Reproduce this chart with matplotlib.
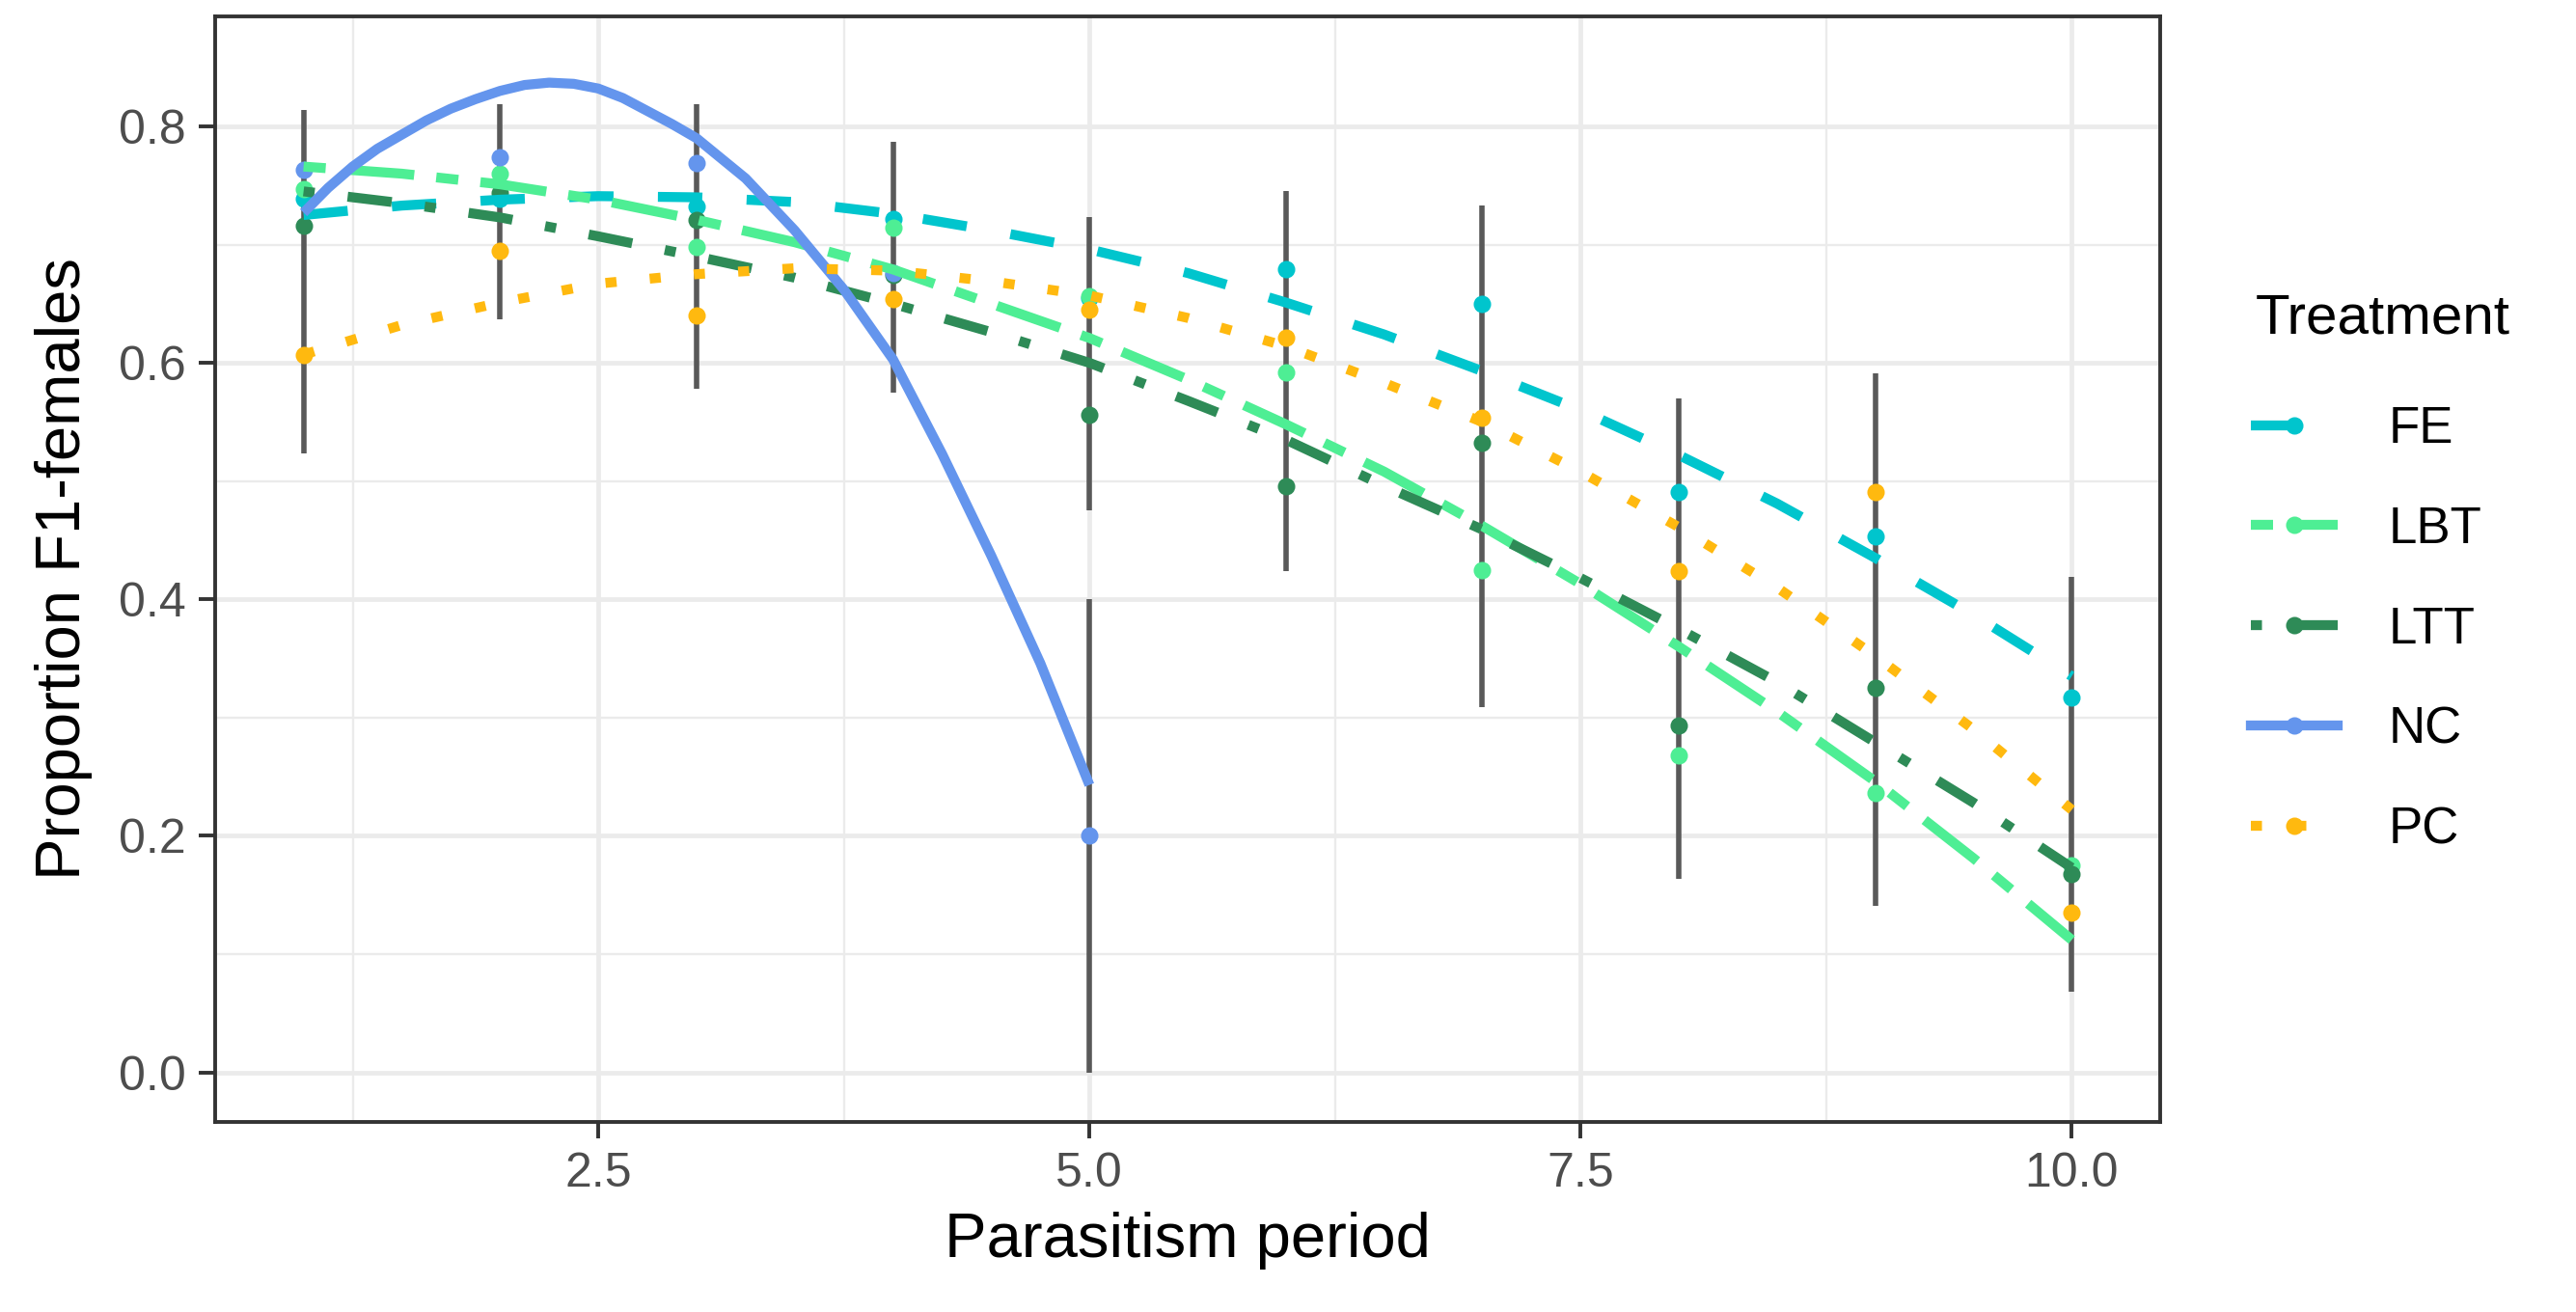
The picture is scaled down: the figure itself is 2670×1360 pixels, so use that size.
import matplotlib
matplotlib.use("Agg")
import matplotlib.pyplot as plt
from matplotlib.lines import Line2D

plt.rcParams['font.family'] = ['Liberation Sans', 'DejaVu Sans']
plt.rcParams['lines.scale_dashes'] = False

# ---------------- data ----------------
treatments = ["FE", "LBT", "LTT", "NC", "PC"]
colors = {"FE": "#00C5CD", "LBT": "#4EEE94", "LTT": "#2E8B57",
          "NC": "#6495ED", "PC": "#FFB90F"}

period = [1, 2, 3, 4, 5, 6, 7, 8, 9, 10]
fe_mean = [0.739, 0.739, 0.732, 0.722, 0.655, 0.679, 0.650, 0.491, 0.453, 0.317]
lbt_mean = [0.747, 0.760, 0.698, 0.714, 0.656, 0.592, 0.425, 0.268, 0.236, 0.175]
ltt_mean = [0.716, 0.744, 0.721, 0.674, 0.556, 0.496, 0.532, 0.293, 0.325, 0.168]
nc_period = [1, 2, 3, 4, 5]
nc_mean = [0.763, 0.774, 0.769, 0.676, 0.200]
pc_mean = [0.607, 0.695, 0.640, 0.654, 0.645, 0.621, 0.554, 0.424, 0.491, 0.135]

# error bars (visible spans)
err_x = [1, 2, 3, 4, 5, 5, 6, 7, 8, 9, 10]
err_lo = [0.523, 0.637, 0.578, 0.575, 0.000, 0.475, 0.424, 0.309, 0.164, 0.141, 0.068]
err_hi = [0.814, 0.819, 0.819, 0.787, 0.400, 0.723, 0.745, 0.733, 0.570, 0.591, 0.419]

# fitted curves
fit_x = [1.0, 1.5, 2.0, 2.5, 3.0, 3.5, 4.0, 4.5, 5.0, 5.5,
         6.0, 6.5, 7.0, 7.5, 8.0, 8.5, 9.0, 9.5, 10.0]
fe_fit = [0.725, 0.733, 0.738, 0.741, 0.740, 0.736, 0.726, 0.712, 0.696, 0.676,
          0.651, 0.624, 0.593, 0.560, 0.522, 0.481, 0.435, 0.387, 0.335]
lbt_fit = [0.766, 0.760, 0.751, 0.738, 0.721, 0.702, 0.679, 0.650, 0.621, 0.586,
           0.548, 0.508, 0.462, 0.413, 0.360, 0.305, 0.246, 0.181, 0.112]
ltt_fit = [0.745, 0.735, 0.723, 0.707, 0.690, 0.672, 0.650, 0.626, 0.600, 0.568,
           0.535, 0.496, 0.459, 0.418, 0.375, 0.330, 0.279, 0.228, 0.173]
pc_fit = [0.607, 0.632, 0.651, 0.667, 0.675, 0.680, 0.678, 0.669, 0.657, 0.638,
          0.614, 0.583, 0.550, 0.508, 0.461, 0.410, 0.352, 0.290, 0.222]
nc_fit_x = [1.0, 1.125, 1.25, 1.375, 1.5, 1.625, 1.75, 1.875, 2.0, 2.125,
            2.25, 2.375, 2.5, 2.625, 2.75, 2.875, 3.0, 3.25,
            3.5, 3.75, 4.0, 4.25, 4.5, 4.75, 5.0]
nc_fit = [0.727, 0.748, 0.766, 0.781, 0.793, 0.805, 0.815, 0.823, 0.830, 0.835,
          0.837, 0.836, 0.832, 0.824, 0.813, 0.802, 0.790, 0.756,
          0.712, 0.662, 0.603, 0.523, 0.437, 0.346, 0.243]

x_ticks = [2.5, 5.0, 7.5, 10.0]
x_ticklabels = ["2.5", "5.0", "7.5", "10.0"]
y_ticks = [0.0, 0.2, 0.4, 0.6, 0.8]
y_ticklabels = ["0.0", "0.2", "0.4", "0.6", "0.8"]

# ---------------- styles ----------------
unit = 4.14  # dash unit in points
dash_styles = {
    "FE": (0, (4 * unit, 4 * unit)),
    "LBT": (0, (2 * unit, 2 * unit, 6 * unit, 2 * unit)),
    "LTT": (0, (1 * unit, 3 * unit, 4 * unit, 3 * unit)),
    "NC": "solid",
    "PC": (0, (1 * unit, 3 * unit)),
}
LW = 3.7
MS = 6.5

series = {
    "FE": (period, fe_mean, fit_x, fe_fit),
    "LBT": (period, lbt_mean, fit_x, lbt_fit),
    "LTT": (period, ltt_mean, fit_x, ltt_fit),
    "NC": (nc_period, nc_mean, nc_fit_x, nc_fit),
    "PC": (period, pc_mean, fit_x, pc_fit),
}

fig = plt.figure(figsize=(13.35, 6.8), dpi=200)
ax = fig.add_axes([223 / 2670, 1 - 1163 / 1360, (2239 - 223) / 2670, (1163 - 17) / 1360])

ax.set_xlim(0.55, 10.45)
ax.set_ylim(-0.042, 0.893)

# grid
ax.set_xticks(x_ticks)
ax.set_xticklabels(x_ticklabels)
ax.set_xticks([1.25, 3.75, 6.25, 8.75], minor=True)
ax.set_yticks(y_ticks)
ax.set_yticklabels(y_ticklabels)
ax.set_yticks([0.1, 0.3, 0.5, 0.7], minor=True)
ax.grid(which='major', color='#EBEBEB', lw=1.7, zorder=0)
ax.grid(which='minor', color='#EBEBEB', lw=0.85, zorder=0)
ax.set_axisbelow(True)

# error bars
ax.vlines(err_x, err_lo, err_hi, color='#595959', lw=2.0, zorder=2)

# points
for t in treatments:
    px, py, fx, fy = series[t]
    ax.scatter(px, py, s=MS ** 2, color=colors[t], zorder=3, linewidths=0)

# fitted lines
for t in treatments:
    px, py, fx, fy = series[t]
    ax.plot(fx, fy, color=colors[t], lw=LW, linestyle=dash_styles[t],
            dash_capstyle='butt', solid_capstyle='butt', solid_joinstyle='round',
            zorder=4)

for s in ax.spines.values():
    s.set_color('#333333')
    s.set_linewidth(1.4)

ax.tick_params(which='major', length=6, width=1.4, color='#333333',
               labelsize=18, labelcolor='#4D4D4D', pad=5)
ax.tick_params(which='minor', length=0)

ax.set_xlabel("Parasitism period", fontsize=23.5, color='black')
ax.set_ylabel("Proportion F1-females", fontsize=23.5, color='black')
ax.xaxis.set_label_coords(0.5, (1163 - 1286) / 1146)
ax.xaxis.label.set_va('center')
ax.yaxis.set_label_coords((66 - 223) / 2016, 0.5)
ax.yaxis.label.set_va('center')

# legend
fig.text(2338 / 2670, 1 - 331 / 1360, "Treatment", fontsize=21,
         ha='left', va='center', color='black')
handles = []
for t in treatments:
    handles.append(Line2D([0], [0], color=colors[t], lw=LW, linestyle=dash_styles[t],
                          dash_capstyle='butt', marker='o', markersize=MS,
                          markeredgewidth=0))
leg = fig.legend(handles, treatments, loc='upper left',
                 bbox_to_anchor=(2333 / 2670, 1 - 420 / 1360), frameon=False,
                 fontsize=19, handlelength=1.7,
                 handletextpad=1.0, labelspacing=1.02, borderaxespad=0,
                 borderpad=0, numpoints=1)

fig.savefig("out.png", dpi=200, facecolor='white')
